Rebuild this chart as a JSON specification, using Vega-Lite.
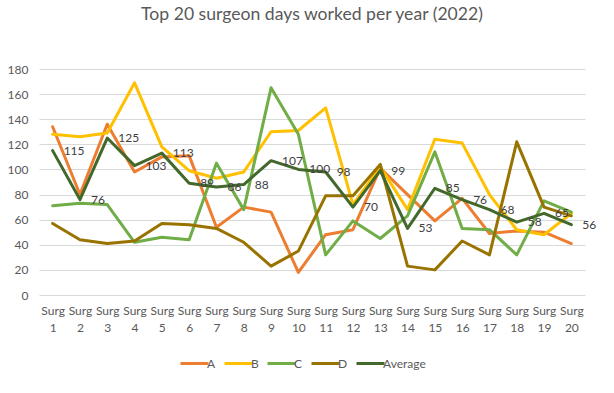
{
  "$schema": "https://vega.github.io/schema/vega-lite/v6.json",
  "width": 546,
  "height": 226,
  "autosize": "none",
  "padding": {"left": 39, "top": 69, "right": 29, "bottom": 98},
  "background": "white",
  "title": {
    "text": "Top 20 surgeon days worked per year (2022)",
    "fontSize": 17.6,
    "font": "Lato",
    "fontWeight": "normal",
    "color": "#595959",
    "anchor": "middle",
    "baseline": "alphabetic",
    "offset": 25
  },
  "config": {
    "font": "Lato",
    "view": {"stroke": null},
    "axis": {"labelColor": "#595959", "labelFontSize": 12, "labelFont": "Lato"},
    "legend": {"labelColor": "#595959", "labelFontSize": 12, "labelFont": "Lato"}
  },
  "data": {
    "values": [
      {"surg": "Surg 1", "series": "A", "value": 134},
      {"surg": "Surg 2", "series": "A", "value": 80},
      {"surg": "Surg 3", "series": "A", "value": 136},
      {"surg": "Surg 4", "series": "A", "value": 98},
      {"surg": "Surg 5", "series": "A", "value": 110},
      {"surg": "Surg 6", "series": "A", "value": 111},
      {"surg": "Surg 7", "series": "A", "value": 54},
      {"surg": "Surg 8", "series": "A", "value": 70},
      {"surg": "Surg 9", "series": "A", "value": 66},
      {"surg": "Surg 10", "series": "A", "value": 18},
      {"surg": "Surg 11", "series": "A", "value": 48},
      {"surg": "Surg 12", "series": "A", "value": 52},
      {"surg": "Surg 13", "series": "A", "value": 101},
      {"surg": "Surg 14", "series": "A", "value": 80},
      {"surg": "Surg 15", "series": "A", "value": 59},
      {"surg": "Surg 16", "series": "A", "value": 77},
      {"surg": "Surg 17", "series": "A", "value": 49},
      {"surg": "Surg 18", "series": "A", "value": 51},
      {"surg": "Surg 19", "series": "A", "value": 50},
      {"surg": "Surg 20", "series": "A", "value": 41},
      {"surg": "Surg 1", "series": "B", "value": 128},
      {"surg": "Surg 2", "series": "B", "value": 126},
      {"surg": "Surg 3", "series": "B", "value": 129},
      {"surg": "Surg 4", "series": "B", "value": 169},
      {"surg": "Surg 5", "series": "B", "value": 118},
      {"surg": "Surg 6", "series": "B", "value": 99},
      {"surg": "Surg 7", "series": "B", "value": 93},
      {"surg": "Surg 8", "series": "B", "value": 98},
      {"surg": "Surg 9", "series": "B", "value": 130},
      {"surg": "Surg 10", "series": "B", "value": 131},
      {"surg": "Surg 11", "series": "B", "value": 149},
      {"surg": "Surg 12", "series": "B", "value": 72},
      {"surg": "Surg 13", "series": "B", "value": 102},
      {"surg": "Surg 14", "series": "B", "value": 68},
      {"surg": "Surg 15", "series": "B", "value": 124},
      {"surg": "Surg 16", "series": "B", "value": 121},
      {"surg": "Surg 17", "series": "B", "value": 80},
      {"surg": "Surg 18", "series": "B", "value": 52},
      {"surg": "Surg 19", "series": "B", "value": 48},
      {"surg": "Surg 20", "series": "B", "value": 65},
      {"surg": "Surg 1", "series": "C", "value": 71},
      {"surg": "Surg 2", "series": "C", "value": 73},
      {"surg": "Surg 3", "series": "C", "value": 72},
      {"surg": "Surg 4", "series": "C", "value": 42},
      {"surg": "Surg 5", "series": "C", "value": 46},
      {"surg": "Surg 6", "series": "C", "value": 44},
      {"surg": "Surg 7", "series": "C", "value": 105},
      {"surg": "Surg 8", "series": "C", "value": 68},
      {"surg": "Surg 9", "series": "C", "value": 165},
      {"surg": "Surg 10", "series": "C", "value": 128},
      {"surg": "Surg 11", "series": "C", "value": 32},
      {"surg": "Surg 12", "series": "C", "value": 59},
      {"surg": "Surg 13", "series": "C", "value": 45},
      {"surg": "Surg 14", "series": "C", "value": 63},
      {"surg": "Surg 15", "series": "C", "value": 114},
      {"surg": "Surg 16", "series": "C", "value": 53},
      {"surg": "Surg 17", "series": "C", "value": 52},
      {"surg": "Surg 18", "series": "C", "value": 32},
      {"surg": "Surg 19", "series": "C", "value": 75},
      {"surg": "Surg 20", "series": "C", "value": 66},
      {"surg": "Surg 1", "series": "D", "value": 57},
      {"surg": "Surg 2", "series": "D", "value": 44},
      {"surg": "Surg 3", "series": "D", "value": 41},
      {"surg": "Surg 4", "series": "D", "value": 43},
      {"surg": "Surg 5", "series": "D", "value": 57},
      {"surg": "Surg 6", "series": "D", "value": 56},
      {"surg": "Surg 7", "series": "D", "value": 53},
      {"surg": "Surg 8", "series": "D", "value": 42},
      {"surg": "Surg 9", "series": "D", "value": 23},
      {"surg": "Surg 10", "series": "D", "value": 35},
      {"surg": "Surg 11", "series": "D", "value": 79},
      {"surg": "Surg 12", "series": "D", "value": 79},
      {"surg": "Surg 13", "series": "D", "value": 104},
      {"surg": "Surg 14", "series": "D", "value": 23},
      {"surg": "Surg 15", "series": "D", "value": 20},
      {"surg": "Surg 16", "series": "D", "value": 43},
      {"surg": "Surg 17", "series": "D", "value": 32},
      {"surg": "Surg 18", "series": "D", "value": 122},
      {"surg": "Surg 19", "series": "D", "value": 70},
      {"surg": "Surg 20", "series": "D", "value": 63},
      {"surg": "Surg 1", "series": "Average", "value": 115},
      {"surg": "Surg 2", "series": "Average", "value": 76},
      {"surg": "Surg 3", "series": "Average", "value": 125},
      {"surg": "Surg 4", "series": "Average", "value": 103},
      {"surg": "Surg 5", "series": "Average", "value": 113},
      {"surg": "Surg 6", "series": "Average", "value": 89},
      {"surg": "Surg 7", "series": "Average", "value": 86},
      {"surg": "Surg 8", "series": "Average", "value": 88},
      {"surg": "Surg 9", "series": "Average", "value": 107},
      {"surg": "Surg 10", "series": "Average", "value": 100},
      {"surg": "Surg 11", "series": "Average", "value": 98},
      {"surg": "Surg 12", "series": "Average", "value": 70},
      {"surg": "Surg 13", "series": "Average", "value": 99},
      {"surg": "Surg 14", "series": "Average", "value": 53},
      {"surg": "Surg 15", "series": "Average", "value": 85},
      {"surg": "Surg 16", "series": "Average", "value": 76},
      {"surg": "Surg 17", "series": "Average", "value": 68},
      {"surg": "Surg 18", "series": "Average", "value": 58},
      {"surg": "Surg 19", "series": "Average", "value": 65},
      {"surg": "Surg 20", "series": "Average", "value": 56}
    ]
  },
  "encoding": {
    "x": {
      "field": "surg",
      "type": "ordinal",
      "sort": null,
      "scale": {"type": "point", "padding": 0.5},
      "axis": {
        "title": null,
        "labelAngle": 0,
        "labelExpr": "split(datum.label, ' ')",
        "labelLineHeight": 17,
        "labelPadding": 10,
        "ticks": false,
        "domain": false,
        "grid": false
      }
    },
    "y": {
      "field": "value",
      "type": "quantitative",
      "scale": {"domain": [0, 180], "nice": false},
      "axis": {
        "title": null,
        "values": [0, 20, 40, 60, 80, 100, 120, 140, 160, 180],
        "grid": true,
        "gridColor": "#d9d9d9",
        "gridWidth": 1,
        "ticks": false,
        "domain": false,
        "labelPadding": 11
      }
    }
  },
  "layer": [
    {
      "mark": {"type": "line", "strokeJoin": "round", "strokeCap": "round"},
      "encoding": {
        "color": {
          "field": "series",
          "type": "nominal",
          "scale": {
            "domain": ["A", "B", "C", "D", "Average"],
            "range": ["#ED7D31", "#FFC000", "#70AD47", "#997300", "#43682B"]
          },
          "legend": {
            "title": null,
            "orient": "none",
            "legendX": 140,
            "legendY": 279,
            "direction": "horizontal",
            "gridAlign": "none",
            "symbolType": "stroke",
            "symbolSize": 784,
            "symbolStrokeWidth": 3,
            "labelOffset": -3,
            "columnPadding": 2
          }
        },
        "strokeWidth": {
          "field": "series",
          "type": "nominal",
          "scale": {"domain": ["A", "B", "C", "D", "Average"], "range": [3, 3, 3, 3, 3.5]},
          "legend": null
        },
        "order": {"field": "series", "type": "nominal", "sort": "ascending"}
      }
    },
    {
      "transform": [{"filter": "datum.series === 'Average'"}],
      "mark": {"type": "text", "align": "left", "baseline": "middle", "dx": 11, "fontSize": 12, "color": "#404040"},
      "encoding": {"text": {"field": "value", "type": "quantitative"}}
    }
  ]
}
